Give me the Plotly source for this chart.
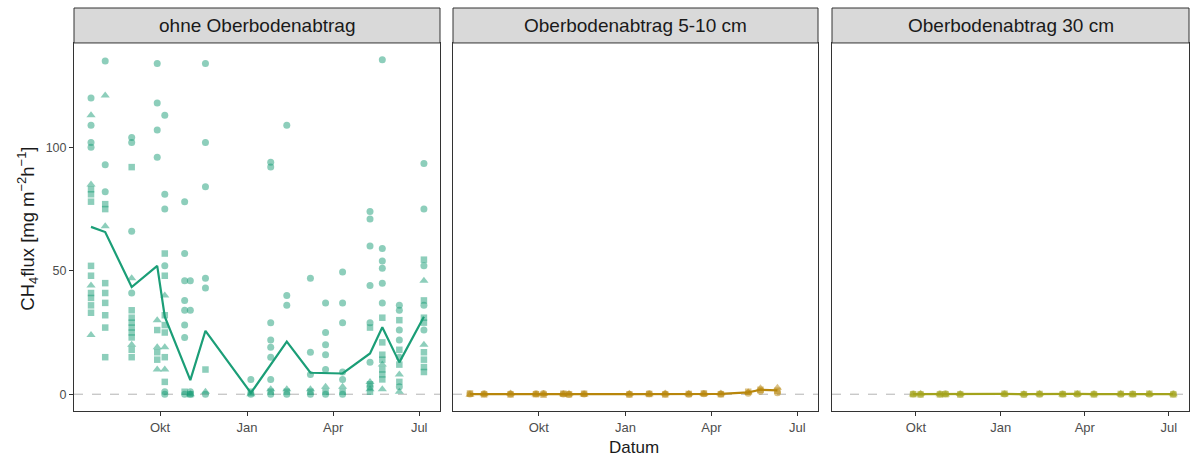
import pandas as pd
import plotly.graph_objects as go

# --- Sampling dates -------------------------------------------------------
dates_ohne = ["2019-07-20", "2019-08-04", "2019-09-01", "2019-09-28", "2019-10-06",
              "2019-10-27", "2019-11-02", "2019-11-18", "2020-01-05", "2020-01-26",
              "2020-02-12", "2020-03-08", "2020-03-24", "2020-04-11", "2020-05-10",
              "2020-05-23", "2020-06-10", "2020-07-06"]

# CH4 flux per sampling date, single chambers (ohne Oberbodenabtrag)
flux_ohne = [
    [120, 113, 109, 102, 100, 85, 83, 81, 78, 52, 48, 44, 41, 39, 36, 33, 24],
    [135, 121, 93, 82, 77, 75, 68, 45, 41, 37, 32, 27, 15],
    [104, 102, 92, 66, 47, 41, 34, 31, 29, 27, 25, 23, 20, 18, 15],
    [134, 118, 107, 96, 30, 26, 19, 17, 14, 10],
    [113, 81, 75, 57, 52, 48, 40, 32, 28, 25, 19, 15, 10, 5, 1, 0],
    [78, 57, 46, 38, 34, 28, 23, 1, 0],
    [46, 34, 1, 0, 0, 0],
    [134, 102, 84, 47, 43, 10, 1, 0],
    [6, 1, 0, 0],
    [94, 92, 29, 22, 19, 15, 6, 2, 1, 0],
    [109, 40, 36, 2, 1, 0],
    [47, 17, 8, 2, 1, 0],
    [37, 25, 20, 16, 10, 3, 1, 0],
    [49.5, 37, 29, 9, 6, 3, 1, 0],
    [74, 71, 60, 44, 29, 27, 13, 5, 4, 3, 2, 1],
    [135.5, 59, 54, 51, 45, 37, 31, 21, 16, 14, 12, 10, 8, 6, 2],
    [36, 34, 30, 26, 22, 18, 15, 12, 8, 5, 3, 1],
    [93.5, 75, 54.5, 52, 46, 38, 36, 31, 29, 26, 20, 17, 14, 11, 9],
]
# chamber type per value: c = circle, t = triangle, s = square
form_ohne = [
    "ctccctssssstsssst", "ctccsstssssss", "ccsctcsssssstss", "cccctstsst",
    "cccscstssststscc", "cccccccsc", "ccctsc", "cccccstc", "cstc", "ccccccctsc",
    "ccctsc", "ccctsc", "ccccctsc", "ccccctsc", "cccccsctscts", "ccccccsssstssst",
    "ccsccscstsct", "ccsctscssctssss",
]

# mean line (ohne Oberbodenabtrag)
line_dates_ohne = ["2019-07-20", "2019-08-04", "2019-09-01", "2019-09-28", "2019-10-06",
                   "2019-11-02", "2019-11-18", "2020-01-05", "2020-02-12", "2020-03-08",
                   "2020-04-11", "2020-05-10", "2020-05-23", "2020-06-10", "2020-07-06"]
line_flux_ohne = [67.8, 65.7, 43.4, 52.0, 31.4, 5.7, 25.7, 0.5, 21.3, 8.7,
                  8.4, 16.5, 27.1, 12.9, 31.4]

# Oberbodenabtrag 5-10 cm
dates_5_10 = ["2019-07-20", "2019-08-04", "2019-09-01", "2019-09-28", "2019-10-06",
              "2019-10-27", "2019-11-02", "2019-11-18", "2020-01-05", "2020-01-26",
              "2020-02-12", "2020-03-08", "2020-03-24", "2020-04-11", "2020-05-10",
              "2020-05-23", "2020-06-10"]
flux_5_10 = [
    [0.1, -0.2, 0.3], [0.2, 0.0, -0.1], [0.1, 0.3, -0.1], [0.2, -0.1, 0.0],
    [0.3, 0.1, -0.2], [0.1, 0.0, 0.2], [-0.1, 0.2, 0.0], [0.1, -0.1, 0.2],
    [0.0, 0.2, -0.1], [0.2, 0.0, 0.1], [0.1, 0.3, -0.1], [0.0, 0.2, 0.1],
    [0.2, 0.1, 0.3], [0.1, 0.3, 0.0], [0.4, 0.8, 1.0], [1.2, 2.4, 1.8],
    [0.6, 2.6, 1.4],
]

# Oberbodenabtrag 30 cm
dates_30 = ["2019-09-28", "2019-10-06", "2019-10-27", "2019-11-02", "2019-11-18",
            "2020-01-05", "2020-01-26", "2020-02-12", "2020-03-08", "2020-03-24",
            "2020-04-11", "2020-05-10", "2020-05-23", "2020-06-10", "2020-07-06"]
flux_30 = [
    [0.1, -0.1, 0.0], [0.0, 0.2, -0.1], [0.1, 0.0, -0.1], [0.2, -0.1, 0.0],
    [0.0, 0.1, -0.1], [0.1, 0.0, 0.2], [-0.1, 0.1, 0.0], [0.0, 0.2, 0.1],
    [0.1, -0.1, 0.0], [0.0, 0.1, 0.2], [0.1, 0.0, -0.1], [0.0, 0.2, 0.1],
    [0.1, -0.1, 0.0], [0.0, 0.1, 0.2], [0.1, 0.0, -0.1],
]
form_triplet = "cts"

panel_titles = ["ohne Oberbodenabtrag", "Oberbodenabtrag 5-10 cm", "Oberbodenabtrag 30 cm"]
panel_colors = ["#1B9E77", "#B8860B", "#A3A31C"]

x_ticks = ["2019-10-01", "2020-01-01", "2020-04-01", "2020-07-01"]
x_tick_labels = ["Okt", "Jan", "Apr", "Jul"]
y_ticks = [0, 50, 100]

SYMBOLS = {"c": "circle", "t": "triangle-up", "s": "square"}
SIZES = {"c": 7, "t": 8, "s": 6.5}


def long_format(dates, values, forms):
    rows = []
    for d, vals, shp in zip(dates, values, forms):
        for v, s in zip(vals, shp):
            rows.append({"datum": d, "flux": v, "form": s})
    return pd.DataFrame(rows)


df_ohne = long_format(dates_ohne, flux_ohne, form_ohne)
df_510 = long_format(dates_5_10, flux_5_10, [form_triplet] * len(dates_5_10))
df_30 = long_format(dates_30, flux_30, [form_triplet] * len(dates_30))

fig = go.Figure()


def add_points(df, color, xa, ya):
    fig.add_trace(go.Scatter(
        x=df["datum"], y=df["flux"], mode="markers",
        marker=dict(symbol=[SYMBOLS[s] for s in df["form"]],
                    size=[SIZES[s] for s in df["form"]],
                    color=color, opacity=0.5, line=dict(width=0)),
        xaxis=xa, yaxis=ya, showlegend=False, hoverinfo="skip"))


def add_line(x, y, color, xa, ya):
    fig.add_trace(go.Scatter(
        x=x, y=y, mode="lines", line=dict(color=color, width=2.2),
        xaxis=xa, yaxis=ya, showlegend=False, hoverinfo="skip"))


add_points(df_ohne, panel_colors[0], "x", "y")
add_line(line_dates_ohne, line_flux_ohne, panel_colors[0], "x", "y")

mean_510 = df_510.groupby("datum", sort=True)["flux"].mean()
add_points(df_510, panel_colors[1], "x2", "y2")
add_line(list(mean_510.index), list(mean_510.values), panel_colors[1], "x2", "y2")

mean_30 = df_30.groupby("datum", sort=True)["flux"].mean()
add_points(df_30, panel_colors[2], "x3", "y3")
add_line(list(mean_30.index), list(mean_30.values), panel_colors[2], "x3", "y3")

# --- layout geometry (pixels) ---
W, H = 1192, 457
m_l, m_r, m_t, m_b = 74, 3, 8, 45.5
pw = W - m_l - m_r
ph = H - m_t - m_b
panels_px = [(74, 440), (453, 818), (832, 1189)]
strip_top_px, strip_bot_px = 8, 43
panel_bottom_px = H - m_b

x_domains = [[(a - m_l) / pw, (b - m_l) / pw] for a, b in panels_px]
y_top = (panel_bottom_px - strip_bot_px) / ph
y_domain = [0, y_top]

FONT = "Liberation Sans, Arial, sans-serif"
x_range = ["2019-07-02", "2020-07-23"]
y_range = [-6.8, 142.3]

layout = dict(
    width=W, height=H,
    margin=dict(l=m_l, r=m_r, t=m_t, b=m_b, pad=0),
    paper_bgcolor="white", plot_bgcolor="white",
    font=dict(family=FONT, color="#1A1A1A"),
    showlegend=False,
)

for i in range(3):
    sx = "" if i == 0 else str(i + 1)
    layout["xaxis" + sx] = dict(
        domain=x_domains[i], type="date", range=x_range,
        anchor="y" + sx,
        tickmode="array", tickvals=x_ticks, ticktext=x_tick_labels,
        ticks="outside", ticklen=4, tickwidth=1, tickcolor="#333333",
        showline=True, mirror=True, linecolor="#333333", linewidth=1,
        showgrid=False, zeroline=False,
        tickfont=dict(size=13, color="#4D4D4D", family=FONT),
    )
    layout["yaxis" + sx] = dict(
        domain=y_domain, range=y_range, anchor="x" + sx,
        tickmode="array", tickvals=y_ticks,
        ticks="outside" if i == 0 else "", ticklen=4, tickwidth=1, tickcolor="#333333",
        showticklabels=(i == 0),
        showline=True, mirror=True, linecolor="#333333", linewidth=1,
        showgrid=False, zeroline=False,
        tickfont=dict(size=12.5, color="#4D4D4D", family=FONT),
    )

shapes = []
annotations = []
for i in range(3):
    sx = "" if i == 0 else str(i + 1)
    # dashed reference line at zero
    shapes.append(dict(type="line", xref="x" + sx + " domain", yref="y" + sx,
                       x0=0, x1=1, y0=0, y1=0, layer="below",
                       line=dict(color="#B3B3B3", width=1, dash="dash")))
    # facet strip
    shapes.append(dict(type="rect", xref="paper", yref="paper",
                       x0=x_domains[i][0], x1=x_domains[i][1],
                       y0=y_top, y1=(panel_bottom_px - strip_top_px) / ph,
                       fillcolor="#D9D9D9", line=dict(color="#333333", width=1)))
    annotations.append(dict(
        text=panel_titles[i], xref="paper", yref="paper",
        x=(x_domains[i][0] + x_domains[i][1]) / 2,
        y=(panel_bottom_px - (strip_top_px + strip_bot_px) / 2) / ph,
        xanchor="center", yanchor="middle", showarrow=False,
        font=dict(size=19, color="#1A1A1A", family=FONT)))

annotations.append(dict(
    text="Datum", xref="paper", yref="paper",
    x=(634 - m_l) / pw, y=(panel_bottom_px - 448) / ph,
    xanchor="center", yanchor="middle", showarrow=False,
    font=dict(size=17, color="#1A1A1A", family=FONT)))
annotations.append(dict(
    text="CH<sub>4</sub>flux [mg m<sup>\u22122</sup>h<sup>\u22121</sup>]",
    xref="paper", yref="paper", textangle=-90,
    x=(28 - m_l) / pw, y=(panel_bottom_px - 229) / ph,
    xanchor="center", yanchor="middle", showarrow=False,
    font=dict(size=18.5, color="#1A1A1A", family=FONT)))

layout["shapes"] = shapes
layout["annotations"] = annotations
fig.update_layout(**layout)

fig.write_html("out.html")
